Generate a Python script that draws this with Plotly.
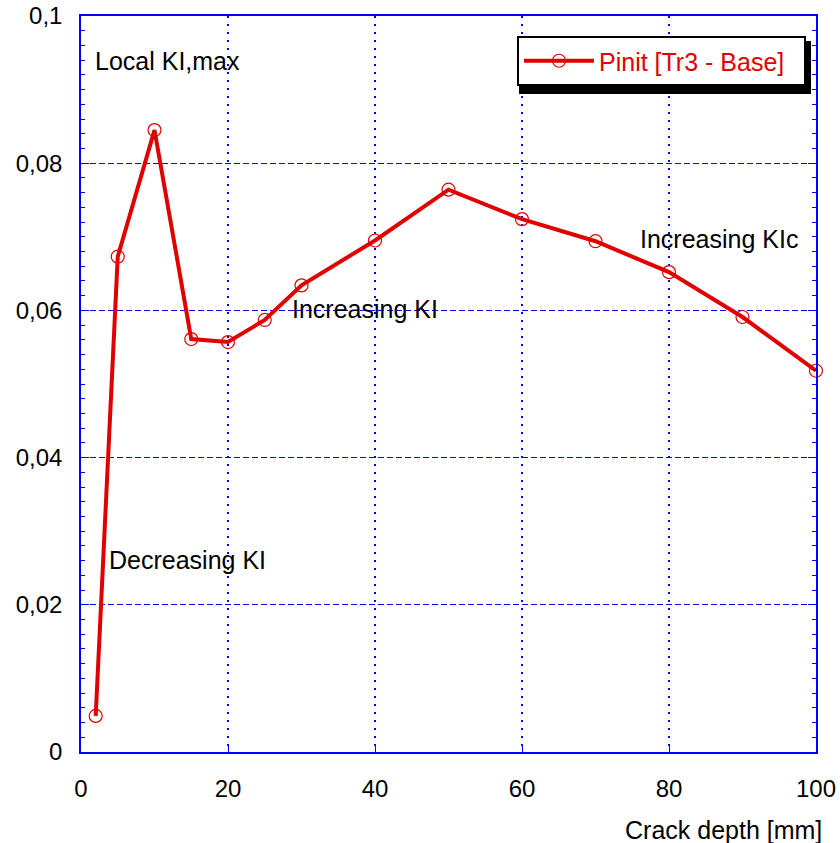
import plotly.graph_objects as go

depth = [2, 5, 10, 15, 20, 25, 30, 40, 50, 60, 70, 80, 90, 100]
kimax = [0.0049, 0.0673, 0.0845, 0.0561, 0.0557, 0.0587, 0.0634, 0.0695,
         0.0764, 0.0724, 0.0694, 0.0652, 0.0591, 0.0518]
series_name = "Pinit [Tr3 - Base]"
xticks = [0, 20, 40, 60, 80, 100]
yticks = [0, 0.02, 0.04, 0.06, 0.08, 0.1]

RED = "#e00000"
BLUE = "#0000ff"
FONT = "Liberation Sans, Arial, sans-serif"
FS = 24

fig = go.Figure()
fig.add_trace(go.Scatter(
    x=depth, y=kimax, mode="lines+markers", name=series_name + "\u00a0\u00a0", cliponaxis=False,
    line=dict(color=RED, width=4),
    marker=dict(symbol="circle-open", size=13, color=RED, line=dict(width=1.2, color=RED)),
))

L, R, T, B = 81, 24, 16, 91
W, H = 840, 843
pw, ph = W - L - R, H - T - B

def px2paper(xp, yp):
    return (xp - L) / pw, (H - B - yp) / ph

# legend shadow
x0, y1 = px2paper(519, 41)
x1, y0 = px2paper(811, 94)
fig.add_shape(type="rect", xref="paper", yref="paper", x0=x0, x1=x1, y0=y0, y1=y1,
              fillcolor="black", line=dict(width=0), layer="above")

fig.update_layout(
    width=W, height=H,
    margin=dict(l=L, r=R, t=T, b=B, autoexpand=False),
    paper_bgcolor="white", plot_bgcolor="white",
    separators=",.",
    font=dict(family=FONT, size=FS, color="black"),
    showlegend=True,
    legend=dict(x=(806 - L) / pw, xanchor="right", y=(H - B - 36) / ph, yanchor="top",
                bgcolor="white", bordercolor="black", borderwidth=2,
                font=dict(family=FONT, size=25, color=RED), itemwidth=70,
                itemclick=False),
    xaxis=dict(range=[0, 100], tickvals=xticks, ticks="inside", ticklen=8, tickcolor=BLUE,
               showline=True, linecolor=BLUE, linewidth=1.5, mirror=True, automargin=False,
               showgrid=True, gridcolor=BLUE, griddash="2px,6px", gridwidth=1.5,
               zeroline=False, fixedrange=True, tickfont=dict(size=FS),
               ticklabelstandoff=14),
    yaxis=dict(range=[0, 0.1], tickvals=yticks, ticks="inside", ticklen=8, tickcolor=BLUE,
               showline=True, linecolor=BLUE, linewidth=1.5, mirror="ticks", automargin=False,
               showgrid=True, gridcolor=BLUE, griddash="6px,3px", gridwidth=1,
               zeroline=False, fixedrange=True, tickfont=dict(size=FS),
               ticklabelstandoff=12,
               minor=dict(dtick=0.002, ticks="inside", ticklen=4, tickcolor=BLUE, showgrid=False)),
)

def note(text, xp, yp, anchor="left"):
    fig.add_annotation(text=text, xref="paper", yref="paper",
                       x=(xp - L) / pw, y=(H - B - yp) / ph,
                       xanchor=anchor, yanchor="middle", showarrow=False,
                       font=dict(family=FONT, size=25, color="black"))

note("Local KI,max", 93, 61)
note("Decreasing KI", 107, 560)
note("Increasing KI", 290, 309)
note("Increasing KIc", 638, 239)
note("Crack depth [mm]", 824, 830, anchor="right")

fig.write_html("out.html")
